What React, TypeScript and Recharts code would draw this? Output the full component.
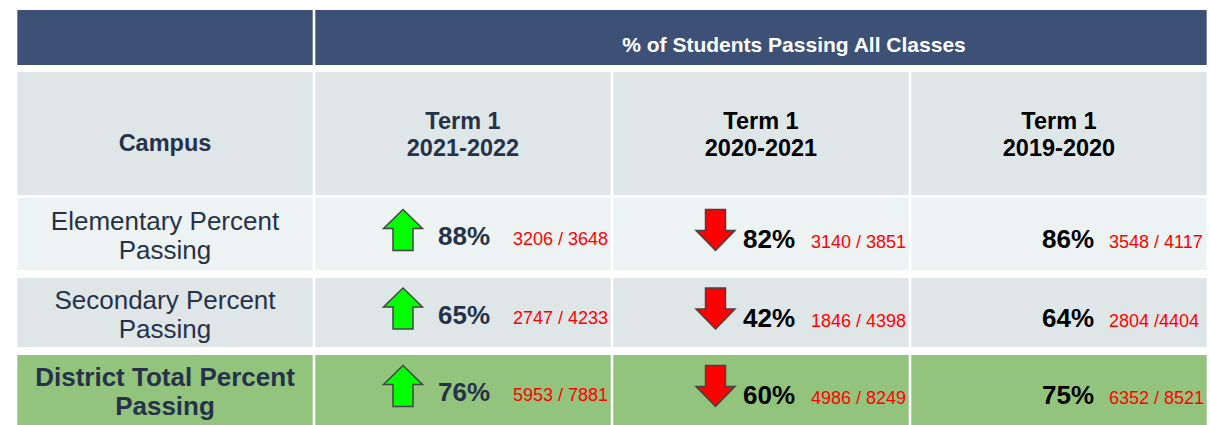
import { ScatterChart, Scatter, XAxis, YAxis, ReferenceArea } from 'recharts';

const TITLE = '% of Students Passing All Classes';
const CAMPUS_HEADER = 'Campus';
const TERM_LABEL = 'Term 1';
const TERMS = ['2021-2022', '2020-2021', '2019-2020'];

const CAMPUS_LINES = [
  ['Elementary Percent', 'Passing'],
  ['Secondary Percent', 'Passing'],
  ['District Total Percent', 'Passing'],
];

const PERCENT_2122 = [88, 65, 76];
const PERCENT_2021 = [82, 42, 60];
const PERCENT_1920 = [86, 64, 75];

const COUNTS_2122 = ['3206 / 3648', '2747 / 4233', '5953 / 7881'];
const COUNTS_2021 = ['3140 / 3851', '1846 / 4398', '4986 / 8249'];
const COUNTS_1920 = ['3548 / 4117', '2804 /4404', '6352 / 8521'];

const TREND_2122 = ['up', 'up', 'up'];
const TREND_2021 = ['down', 'down', 'down'];
const TREND_1920 = ['', '', ''];

const PERCENTS = [PERCENT_2122, PERCENT_2021, PERCENT_1920];
const COUNTS = [COUNTS_2122, COUNTS_2021, COUNTS_1920];
const TRENDS = [TREND_2122, TREND_2021, TREND_1920];

// layout (pixel units on the y axis, column units on the x axis)
const W = 1210;
const H = 425;
const HEADER_BAND = [10, 65];
const SUB_BAND = [72, 195];
const ROW_BANDS = [
  [198, 270],
  [278, 347],
  [355, 425],
];
const HEADER_FILL = '#3d5177';
const SUB_FILL = '#dfe6e8';
const ROW_FILLS = ['#edf2f3', '#dfe6e8', '#93c47d'];
const NAVY = '#263249';
const FONT = '"Liberation Sans", Arial, sans-serif';

const COL_STYLE = [
  { arrow: -60, pct: -25, base: 11, color: NAVY },
  { arrow: -45.5, pct: -18, base: 14, color: '#000' },
  { arrow: 0, pct: -17, base: 14, color: '#000' },
];

const mid = (b: number[]) => (b[0] + b[1]) / 2;

const campusData = CAMPUS_LINES.map((lines, r) => ({ x: 0.5, y: mid(ROW_BANDS[r]), lines, row: r }));

const cellData = TERMS.flatMap((_, c) =>
  CAMPUS_LINES.map((__, r) => ({
    x: c + 1.5,
    y: mid(ROW_BANDS[r]),
    col: c,
    pct: PERCENTS[c][r],
    count: COUNTS[c][r],
    trend: TRENDS[c][r],
  }))
);

const headerData = [{ x: 2.5, y: mid(HEADER_BAND), label: TITLE }];
const subData = [
  { x: 0.5, y: mid(SUB_BAND), lines: [CAMPUS_HEADER], col: -1 },
  ...TERMS.map((t, c) => ({ x: c + 1.5, y: mid(SUB_BAND), lines: [TERM_LABEL, t], col: c })),
];

function arrowPath(ax: number, ay: number, up: boolean) {
  const hw = 19.5;
  const sw = 10;
  const h = 20.5;
  if (up) {
    return `M${ax},${ay - h} L${ax + hw},${ay - 1.5} L${ax + sw},${ay - 1.5} L${ax + sw},${ay + h} L${ax - sw},${ay + h} L${ax - sw},${ay - 1.5} L${ax - hw},${ay - 1.5} Z`;
  }
  return `M${ax},${ay + h} L${ax + hw},${ay + 0.5} L${ax + sw},${ay + 0.5} L${ax + sw},${ay - h} L${ax - sw},${ay - h} L${ax - sw},${ay + 0.5} L${ax - hw},${ay + 0.5} Z`;
}

const CellShape = (props: any) => {
  const { cx, cy, payload } = props;
  const st = COL_STYLE[payload.col];
  return (
    <g>
      {payload.trend && (
        <path
          d={arrowPath(cx + st.arrow, cy - 4, payload.trend === 'up')}
          fill={payload.trend === 'up' ? '#00ff00' : '#ff0000'}
          stroke="#444"
          strokeWidth={1.5}
        />
      )}
      <text x={cx + st.pct} y={cy + st.base} fill={st.color} fontFamily={FONT} fontSize={26} fontWeight="bold">
        {payload.pct}%
      </text>
      <text x={cx + 50} y={cy + st.base} fill="#ff0000" fontFamily={FONT} fontSize={18}>
        {payload.count}
      </text>
    </g>
  );
};

const CampusShape = (props: any) => {
  const { cx, cy, payload } = props;
  const bold = payload.row === 2;
  return (
    <text textAnchor="middle" fill={NAVY} fontFamily={FONT} fontSize={26} fontWeight={bold ? 'bold' : 'normal'}>
      {payload.lines.map((l: string, i: number) => (
        <tspan key={i} x={cx} y={cy - 4 + i * 29}>
          {l}
        </tspan>
      ))}
    </text>
  );
};

const SubShape = (props: any) => {
  const { cx, cy, payload } = props;
  const color = payload.col <= 0 ? NAVY : '#000';
  if (payload.lines.length === 1) {
    return (
      <text x={cx} y={cy + 17} textAnchor="middle" fill={color} fontFamily={FONT} fontSize={23.5} fontWeight="bold">
        {payload.lines[0]}
      </text>
    );
  }
  return (
    <text textAnchor="middle" fill={color} fontFamily={FONT} fontSize={23.5} fontWeight="bold">
      {payload.lines.map((l: string, i: number) => (
        <tspan key={i} x={cx} y={cy - 5 + i * 27.5}>
          {l}
        </tspan>
      ))}
    </text>
  );
};

const HeaderShape = (props: any) => {
  const { cx, cy, payload } = props;
  return (
    <text x={cx + 33} y={cy + 14} textAnchor="middle" fill="#fff" fontFamily={FONT} fontSize={21} fontWeight="bold">
      {payload.label}
    </text>
  );
};

const cellRect = (fill: string) => (p: any) => (
  <rect x={p.x + 1.3} y={p.y} width={p.width - 2.6} height={p.height} fill={fill} />
);

export default function App() {
  return (
    <div style={{ position: 'absolute', left: 0, top: 0, width: W, height: H, background: '#fff' }}>
      <ScatterChart width={W} height={H} margin={{ top: 0, right: 2, bottom: 0, left: 16 }}>
        <XAxis type="number" dataKey="x" domain={[0, 4]} allowDataOverflow hide />
        <YAxis type="number" dataKey="y" domain={[0, H]} allowDataOverflow reversed hide />

        <ReferenceArea x1={0} x2={1} y1={HEADER_BAND[0]} y2={HEADER_BAND[1]} shape={cellRect(HEADER_FILL)} />
        <ReferenceArea x1={1} x2={4} y1={HEADER_BAND[0]} y2={HEADER_BAND[1]} shape={cellRect(HEADER_FILL)} />
        {[0, 1, 2, 3].map((c) => (
          <ReferenceArea key={`s${c}`} x1={c} x2={c + 1} y1={SUB_BAND[0]} y2={SUB_BAND[1]} shape={cellRect(SUB_FILL)} />
        ))}
        {ROW_BANDS.map((b, r) =>
          [0, 1, 2, 3].map((c) => (
            <ReferenceArea key={`r${r}c${c}`} x1={c} x2={c + 1} y1={b[0]} y2={b[1]} shape={cellRect(ROW_FILLS[r])} />
          ))
        )}

        <Scatter data={headerData} shape={HeaderShape} isAnimationActive={false} />
        <Scatter data={subData} shape={SubShape} isAnimationActive={false} />
        <Scatter data={campusData} shape={CampusShape} isAnimationActive={false} />
        <Scatter data={cellData} shape={CellShape} isAnimationActive={false} />
      </ScatterChart>
    </div>
  );
}
